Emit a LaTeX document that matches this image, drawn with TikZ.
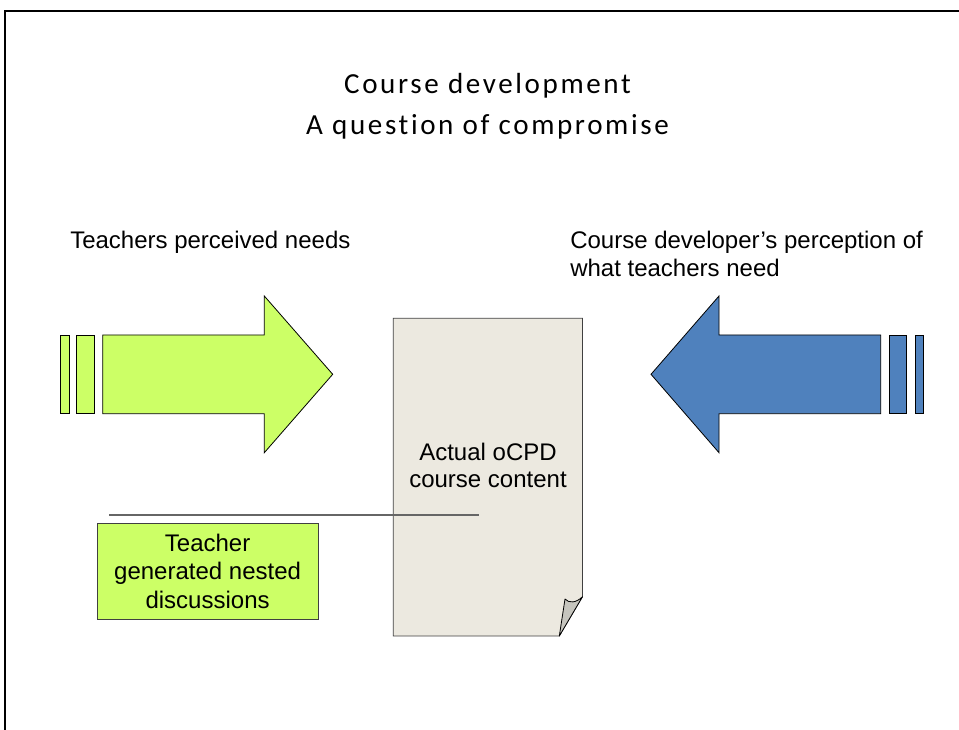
\documentclass[tikz,border=0pt]{standalone}
\usepackage{fontspec}
\setmainfont{Liberation Sans}
\newfontfamily\titlefont[LetterSpace=9,Ligatures={NoCommon}]{Carlito}
\definecolor{limefill}{HTML}{CCFF66}
\definecolor{bluefill}{HTML}{4F81BD}
\definecolor{paperfill}{HTML}{ECE9E0}
\definecolor{flapfill}{HTML}{C6C5BE}
\definecolor{edgegray}{HTML}{404040}
\begin{document}
\begin{tikzpicture}[x=0.75pt,y=-0.75pt,
  shapeline/.style={draw=black,line width=0.6pt,line join=miter},
  bodytext/.style={font=\fontsize{18}{21}\selectfont,inner sep=0pt},
  titletext/.style={font=\titlefont\fontsize{21.8}{25}\selectfont,inner sep=0pt}]
\useasboundingbox (0,0) rectangle (959,730);
% frame
\draw[line width=1.8pt,line cap=rect] (5,735) -- (5,11) -- (965,11);
% title
\node[titletext,anchor=base] (t1) at (487.5,93.5) {Course development};
\node[titletext,anchor=base] (t2) at (487.5,134.5) {A question of compromise};
% labels
\node[bodytext,anchor=base west] (lab1) at (70,249) {Teachers perceived needs};
\node[bodytext,anchor=base west] (lab2a) at (570,249) {Course developer’s perception of};
\node[bodytext,anchor=base west] (lab2b) at (570,277) {what teachers need};
% green arrow
\draw[shapeline,fill=limefill] (60,335) rectangle (69,413.7);
\draw[shapeline,fill=limefill] (76.7,335) rectangle (94.3,413.7);
\draw[shapeline,fill=limefill] (102.7,335) -- (264.3,335) -- (264.3,296) -- (332.7,374.3)
  -- (264.3,452.7) -- (264.3,413.7) -- (102.7,413.7) -- cycle;
% blue arrow
\draw[shapeline,fill=bluefill] (915,335) rectangle (923.3,413.7);
\draw[shapeline,fill=bluefill] (889.3,335) rectangle (906.7,413.7);
\draw[shapeline,fill=bluefill] (880.7,335) -- (719,335) -- (719,296) -- (651,374.3)
  -- (719,452.7) -- (719,413.7) -- (880.7,413.7) -- cycle;
% document
\draw[draw=edgegray,line width=0.6pt,fill=paperfill] (393.3,318.3) -- (582.5,318.3) -- (582.5,596.7)
  -- (559.3,636) -- (393.3,636) -- cycle;
\draw[draw=black,line width=0.6pt,fill=flapfill,line join=round] (559.3,636) -- (565,599)
  .. controls (569,603.5) and (576,603) .. (582.5,596.7) -- cycle;
\node[bodytext,align=center,font=\fontsize{18}{20.25}\selectfont] (doc) at (488,465) {Actual oCPD\\course content};
% connector line
\coordinate (lineA) at (109,515);
\coordinate (lineB) at (479,515);
\draw[draw=gray!80!black,line width=0.8pt] (lineA) -- (lineB);
% text box
\node[draw=edgegray,line width=0.6pt,fill=limefill,minimum width=221pt*0.75,minimum height=96pt*0.75,
  inner sep=0pt,align=center,font=\fontsize{18}{21.4}\selectfont] (tbox) at (207.6,571)
  {Teacher\\generated nested\\discussions};
\end{tikzpicture}
\end{document}
